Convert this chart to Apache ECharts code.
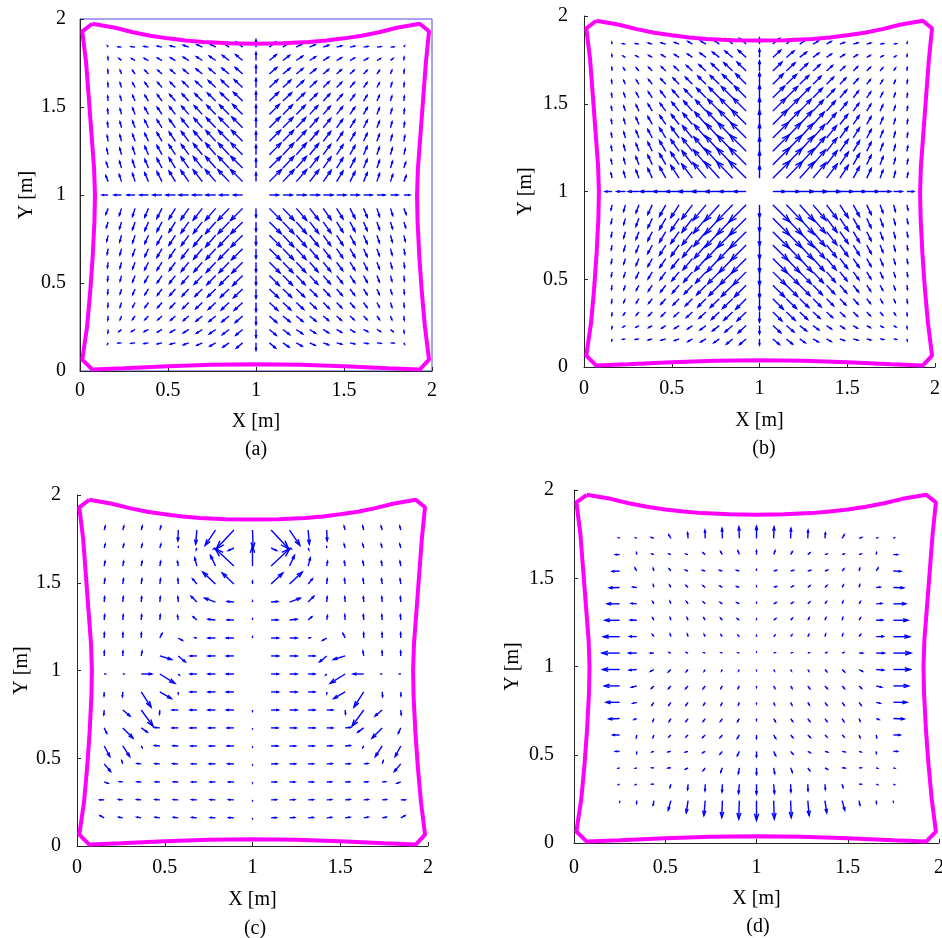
<!DOCTYPE html>
<html>
<head>
<meta charset="utf-8">
<script src="https://cdn.jsdelivr.net/npm/echarts@6/dist/echarts.min.js"></script>
<style>
  html, body { margin: 0; padding: 0; background: #fff; }
  #chart { width: 942px; height: 938px; }
</style>
</head>
<body>
<div id="chart"></div>
<script>
// tick labels, shared by all four panels
const axisTicks = [0, 0.5, 1, 1.5, 2];

// deformed outline of the plate (same in all four panels)
const edgeX = [0.07, 0.2, 0.3, 0.4, 0.5, 0.6, 0.7, 0.85, 1.0, 1.15, 1.3, 1.4, 1.5, 1.6, 1.7, 1.8, 1.93,
  1.983, 1.965, 1.95, 1.935, 1.92, 1.915, 1.918, 1.928, 1.942, 1.96, 1.983,
  1.93, 1.75, 1.5, 1.25, 1.0, 0.75, 0.5, 0.25, 0.07,
  0.013, 0.04, 0.058, 0.072, 0.082, 0.085, 0.08, 0.065, 0.05, 0.035, 0.013, 0.07];
const edgeY = [1.973, 1.95, 1.925, 1.905, 1.89, 1.878, 1.869, 1.862, 1.86, 1.862, 1.869, 1.878, 1.89, 1.905, 1.925, 1.95, 1.973,
  1.93, 1.75, 1.55, 1.35, 1.15, 1.0, 0.85, 0.65, 0.45, 0.25, 0.065,
  0.008, 0.015, 0.027, 0.035, 0.038, 0.035, 0.027, 0.015, 0.008,
  0.065, 0.25, 0.45, 0.65, 0.85, 1.0, 1.15, 1.35, 1.55, 1.75, 1.93, 1.973];

// (a) and (b): upper-left quarter of the arrow grid, the other quarters are its mirror images
const quadX = [0.16, 0.236, 0.313, 0.389, 0.466, 0.542, 0.618, 0.695, 0.771, 0.847, 0.924];
const quadY = [1.84, 1.764, 1.687, 1.611, 1.534, 1.458, 1.382, 1.305, 1.229, 1.153, 1.076];

// arrow length in mm (plot units / 1000), angle in degrees
const lenA = [
  [8, 19, 23, 25, 27, 29, 32, 34, 38, 42, 46],
  [19, 19, 23, 27, 29, 32, 36, 40, 44, 48, 51],
  [23, 23, 25, 29, 32, 36, 40, 46, 49, 53, 57],
  [25, 27, 29, 34, 38, 42, 48, 51, 57, 61, 65],
  [27, 29, 34, 38, 44, 49, 55, 59, 65, 68, 72],
  [29, 32, 38, 44, 49, 55, 61, 67, 72, 76, 80],
  [30, 34, 40, 48, 53, 59, 67, 72, 78, 82, 86],
  [32, 36, 42, 49, 57, 63, 70, 76, 82, 87, 89],
  [34, 38, 44, 51, 59, 67, 72, 80, 86, 89, 93],
  [34, 40, 46, 53, 61, 68, 76, 82, 87, 91, 95],
  [36, 42, 48, 55, 63, 70, 78, 84, 89, 93, 97]
];
const angA = [
  [120, 175, 172, 170, 168, 165, 160, 155, 150, 145, 140],
  [95, 140, 150, 152, 150, 150, 148, 147, 145, 142, 140],
  [95, 110, 125, 133, 137, 138, 139, 140, 140, 140, 138],
  [95, 108, 118, 126, 131, 134, 136, 137, 137, 137, 137],
  [96, 106, 114, 122, 127, 131, 133, 135, 136, 136, 136],
  [97, 105, 112, 119, 124, 128, 131, 133, 134, 135, 135],
  [98, 105, 111, 117, 122, 126, 129, 131, 133, 134, 135],
  [100, 105, 110, 115, 120, 124, 127, 130, 132, 134, 135],
  [104, 106, 109, 114, 119, 123, 126, 129, 131, 133, 135],
  [108, 107, 109, 113, 118, 122, 125, 128, 131, 133, 135],
  [112, 108, 108, 113, 117, 121, 125, 128, 131, 133, 135]
];
const midColA = [42, 46, 49, 51, 53, 53, 55, 55, 55, 53, 51];
const midRowA = [34, 42, 46, 49, 51, 53, 55, 55, 55, 53, 51];

const lenB = [
  [10, 15, 19, 23, 27, 27, 30, 34, 38, 46, 49],
  [15, 15, 19, 23, 27, 30, 34, 42, 49, 57, 61],
  [19, 19, 23, 29, 34, 38, 46, 53, 61, 68, 72],
  [23, 23, 27, 34, 42, 49, 57, 65, 72, 80, 84],
  [23, 27, 32, 40, 49, 59, 68, 76, 84, 91, 95],
  [25, 30, 38, 46, 55, 65, 76, 86, 95, 103, 106],
  [27, 32, 42, 51, 61, 72, 84, 95, 105, 112, 118],
  [27, 34, 44, 55, 67, 78, 89, 101, 112, 122, 125],
  [29, 36, 46, 57, 70, 82, 95, 106, 118, 127, 133],
  [29, 36, 48, 59, 72, 86, 99, 110, 122, 131, 137],
  [29, 38, 48, 61, 74, 87, 101, 114, 125, 133, 139]
];
const angB = [
  [100, 170, 170, 165, 165, 160, 150, 150, 145, 140, 140],
  [95, 150, 150, 150, 148, 147, 145, 143, 142, 140, 138],
  [95, 125, 130, 135, 137, 138, 138, 138, 137, 137, 136],
  [98, 115, 122, 128, 132, 134, 135, 135, 136, 136, 135],
  [98, 110, 118, 124, 128, 131, 133, 134, 135, 135, 135],
  [100, 108, 115, 121, 126, 129, 131, 133, 134, 135, 135],
  [100, 107, 113, 119, 124, 128, 130, 132, 133, 134, 135],
  [100, 106, 112, 118, 122, 126, 129, 131, 133, 134, 135],
  [100, 106, 111, 116, 121, 125, 128, 130, 132, 134, 135],
  [101, 106, 111, 115, 120, 124, 127, 130, 132, 134, 135],
  [102, 106, 110, 115, 119, 123, 127, 130, 132, 134, 135]
];
const midColB = [34, 46, 57, 65, 72, 76, 80, 80, 80, 76, 72];
const midRowB = [38, 49, 61, 68, 72, 76, 80, 80, 80, 76, 72];

// (c): left half incl. centre column, right half is the mirror image
const colsC = [0.155, 0.261, 0.366, 0.472, 0.577, 0.683, 0.789, 0.894, 1.0];
const rowsC = [1.8, 1.698, 1.595, 1.493, 1.39, 1.288, 1.185, 1.083, 0.98, 0.878, 0.775, 0.673, 0.57, 0.468, 0.365, 0.263, 0.16];
const lenC = [
  [23, 23, 23, 23, 61, 80, 105, 148, 105],
  [23, 23, 23, 23, 6, 11, 11, 34, 8],
  [27, 27, 27, 27, 27, 48, 67, 146, 114],
  [29, 29, 29, 29, 29, 38, 99, 91, 15],
  [29, 29, 29, 29, 29, 46, 65, 38, 6],
  [29, 29, 29, 29, 25, 27, 42, 38, 6],
  [29, 29, 29, 29, 27, 11, 42, 42, 6],
  [27, 27, 27, 70, 53, 38, 42, 42, 0],
  [6, 6, 61, 101, 8, 38, 42, 42, 0],
  [23, 27, 103, 76, 10, 38, 42, 42, 0],
  [27, 53, 114, 23, 34, 38, 42, 42, 6],
  [34, 82, 42, 30, 34, 38, 38, 38, 4],
  [68, 72, 10, 30, 30, 34, 34, 38, 4],
  [57, 19, 23, 27, 30, 30, 34, 34, 4],
  [23, 19, 23, 25, 27, 29, 30, 30, 4],
  [25, 23, 25, 27, 27, 29, 29, 30, 4],
  [27, 23, 25, 27, 27, 29, 29, 29, 4]
];
const angC = [
  [75, 75, 75, 75, -92, -95, -124, -133, -88],
  [75, 75, 75, 75, 90, -110, -150, -155, 90],
  [80, 80, 80, 80, 100, 105, 115, 137, 90],
  [82, 82, 82, 82, 95, 130, 137, 137, 90],
  [85, 85, 85, 85, 95, 135, 160, 175, 90],
  [85, 85, 85, 85, 100, 140, 175, 180, 90],
  [88, 88, 88, 65, -30, 170, 180, 180, 90],
  [88, 88, 80, -17, -40, 180, 180, 180, 0],
  [0, 0, 0, -32, -45, 180, 180, 180, 0],
  [-92, -95, -57, -30, -90, 180, 180, 180, 0],
  [-95, -40, -54, -95, 180, 180, 180, 180, -90],
  [-65, -45, -35, 175, 180, 180, 180, 180, -90],
  [-62, -57, -60, 175, 178, 180, 180, 180, -90],
  [-50, 110, 175, 178, 178, 180, 180, 180, -90],
  [-20, 175, 178, 178, 178, 180, 180, 180, -90],
  [180, 175, 175, 176, 177, 178, 178, 178, -90],
  [150, 170, 170, 172, 173, 174, 175, 176, -90]
];

// (d): left half incl. centre column, right half is the mirror image
const colsD = [0.25, 0.344, 0.438, 0.531, 0.625, 0.719, 0.813, 0.906, 1.0];
const rowsD = [1.726, 1.634, 1.541, 1.448, 1.355, 1.262, 1.169, 1.076, 0.983, 0.89, 0.797, 0.705, 0.612, 0.519, 0.426, 0.333, 0.24];
const lenD = [
  [6, 7, 15, 22, 31, 46, 56, 65, 68],
  [22, 11, 11, 11, 11, 15, 19, 22, 22],
  [41, 19, 15, 15, 15, 15, 15, 15, 6],
  [56, 22, 15, 15, 15, 15, 15, 15, 6],
  [68, 30, 15, 15, 15, 15, 15, 15, 6],
  [80, 35, 15, 15, 15, 15, 15, 15, 6],
  [89, 39, 15, 15, 15, 13, 13, 11, 6],
  [96, 44, 19, 9, 9, 7, 7, 7, 4],
  [93, 41, 22, 19, 15, 11, 9, 9, 4],
  [83, 30, 19, 19, 19, 19, 15, 15, 7],
  [74, 22, 19, 19, 19, 17, 17, 15, 7],
  [59, 15, 15, 19, 19, 19, 19, 19, 9],
  [37, 15, 15, 15, 15, 19, 19, 22, 19],
  [22, 11, 11, 15, 15, 15, 19, 26, 30],
  [7, 7, 11, 15, 15, 19, 26, 33, 37],
  [6, 7, 11, 19, 30, 37, 44, 52, 56],
  [6, 15, 26, 56, 70, 85, 96, 104, 111]
];
const angD = [
  [150, 150, 160, 120, 95, 92, 92, 92, 90],
  [180, 100, 160, 160, 165, 140, 120, 110, 90],
  [183, 120, 105, 130, 160, 165, 165, 165, 90],
  [182, 175, 105, 120, 135, 140, 150, 160, 90],
  [180, 175, 120, 110, 125, 135, 145, 150, 90],
  [180, 178, 120, 105, 110, 120, 130, 140, 90],
  [180, 178, 125, 105, 105, 115, 125, 130, 90],
  [180, 180, 180, 160, 160, 160, 160, 160, 90],
  [180, 185, 210, 225, 230, 240, 240, 240, 270],
  [180, 195, 225, 230, 230, 235, 240, 245, 270],
  [180, 195, 235, 235, 235, 240, 245, 250, 270],
  [182, 200, 250, 240, 235, 235, 235, 240, 270],
  [180, 260, 250, 225, 225, 225, 230, 240, 270],
  [180, 265, 195, 190, 195, 210, 230, 245, 270],
  [200, 200, 180, 185, 210, 235, 250, 260, 270],
  [200, 200, 180, 255, 265, 268, 268, 265, 270],
  [270, 265, 260, 255, 262, 265, 268, 268, 270]
];

// mirror a quarter into the full grid: items are [x, y, length, angle]
function quarterArrows(xs, ys, len, ang, midCol, midRow) {
  const out = [];
  ys.forEach((y, r) => {
    xs.forEach((x, c) => {
      const L = len[r][c], a = ang[r][c];
      out.push([x, y, L, a], [2 - x, y, L, 180 - a], [x, 2 - y, L, -a], [2 - x, 2 - y, L, a - 180]);
    });
    out.push([1, y, midCol[r], 90], [1, 2 - y, midCol[r], -90]);
  });
  xs.forEach((x, c) => {
    out.push([x, 1, midRow[c], 180], [2 - x, 1, midRow[c], 0]);
  });
  return out;
}

function halfArrows(xs, ys, len, ang) {
  const out = [];
  ys.forEach((y, r) => {
    xs.forEach((x, c) => {
      const L = len[r][c], a = ang[r][c];
      if (!L) return;
      out.push([x, y, L, a]);
      if (x < 1) out.push([2 - x, y, L, 180 - a]);
    });
  });
  return out;
}

// quiver arrow: shaft plus two head strokes (head 0.33 of the length)
function renderArrow(params, api) {
  const x = api.value(0), y = api.value(1);
  const L = api.value(2) / 1000, a = api.value(3) * Math.PI / 180;
  const p0 = api.coord([x, y]);
  const p1 = api.coord([x + L * Math.cos(a), y + L * Math.sin(a)]);
  const u = p1[0] - p0[0], v = p1[1] - p0[1];
  const al = 0.33, be = 0.33;
  const h1 = [p1[0] - al * (u + be * v), p1[1] - al * (v - be * u)];
  const h2 = [p1[0] - al * (u - be * v), p1[1] - al * (v + be * u)];
  const st = { stroke: '#0000ff', fill: null, lineWidth: 1.4 };
  return {
    type: 'group',
    children: [
      { type: 'line', shape: { x1: p0[0], y1: p0[1], x2: p1[0], y2: p1[1] }, style: st },
      { type: 'polyline', shape: { points: [h1, p1, h2] }, style: st }
    ]
  };
}

const FONT = '"Liberation Serif", "DejaVu Serif", serif';

// per-panel layout: plot rect, label margins, name gaps, caption position
const panels = [
  { tag: '(a)', left: 80, top: 19, w: 352, h: 352, xMargin: 10, yMargin: 14, xGap: 41, yGap: 43, cap: [256, 450], box: true,
    arrows: quarterArrows(quadX, quadY, lenA, angA, midColA, midRowA) },
  { tag: '(b)', left: 584, top: 16, w: 351, h: 351, xMargin: 12, yMargin: 16, xGap: 44, yGap: 48, cap: [764, 449], box: false,
    arrows: quarterArrows(quadX, quadY, lenB, angB, midColB, midRowB) },
  { tag: '(c)', left: 77, top: 495, w: 351, h: 351, xMargin: 12, yMargin: 16, xGap: 44, yGap: 45, cap: [255, 929], box: false,
    arrows: halfArrows(colsC, rowsC, lenC, angC) },
  { tag: '(d)', left: 574, top: 490, w: 365, h: 353, xMargin: 15, yMargin: 20, xGap: 46, yGap: 51, cap: [758, 927], box: false,
    arrows: halfArrows(colsD, rowsD, lenD, angD) }
];

const edge = edgeX.map((x, i) => [x, edgeY[i]]);
const tickFmt = (v) => (axisTicks.indexOf(v) >= 0 ? String(v) : '');

const option = {
  animation: false,
  backgroundColor: '#fff',
  grid: panels.map((p) => ({
    left: p.left, top: p.top, width: p.w, height: p.h,
    outerBoundsMode: 'none',
    show: p.box, borderColor: '#4848e8', borderWidth: 1, backgroundColor: 'transparent'
  })),
  xAxis: panels.map((p, i) => ({
    gridIndex: i, type: 'value', min: 0, max: 2, interval: 0.5,
    name: 'X [m]', nameLocation: 'middle', nameGap: p.xGap,
    nameTextStyle: { fontFamily: FONT, fontSize: 20, color: '#000' },
    axisLine: { show: true, onZero: false, lineStyle: { color: '#262626', width: 1 } },
    axisTick: { show: true, inside: true, length: 4, lineStyle: { color: '#262626' } },
    axisLabel: { fontFamily: FONT, fontSize: 20, color: '#000', margin: p.xMargin, formatter: tickFmt },
    splitLine: { show: false }
  })),
  yAxis: panels.map((p, i) => ({
    gridIndex: i, type: 'value', min: 0, max: 2, interval: 0.5,
    name: 'Y [m]', nameLocation: 'middle', nameGap: p.yGap,
    nameTextStyle: { fontFamily: FONT, fontSize: 20, color: '#000' },
    axisLine: { show: true, onZero: false, lineStyle: { color: '#262626', width: 1 } },
    axisTick: { show: true, inside: true, length: 4, lineStyle: { color: '#262626' } },
    axisLabel: { fontFamily: FONT, fontSize: 20, color: '#000', margin: p.yMargin, formatter: tickFmt },
    splitLine: { show: false }
  })),
  series: [].concat(...panels.map((p, i) => [
    {
      type: 'custom', xAxisIndex: i, yAxisIndex: i,
      renderItem: renderArrow, data: p.arrows, clip: false, silent: true,
      encode: { x: 0, y: 1 }
    },
    {
      type: 'line', xAxisIndex: i, yAxisIndex: i, data: edge,
      showSymbol: false, silent: true,
      lineStyle: { color: '#ff00ff', width: 4 }
    }
  ])),
  graphic: panels.map((p) => ({
    type: 'text', x: p.cap[0], y: p.cap[1],
    style: { text: p.tag, align: 'center', verticalAlign: 'middle', font: '20px ' + FONT, fill: '#000' }
  }))
};

const chart = echarts.init(document.getElementById('chart'), null, { renderer: 'canvas' });
chart.setOption(option);
</script>
</body>
</html>
